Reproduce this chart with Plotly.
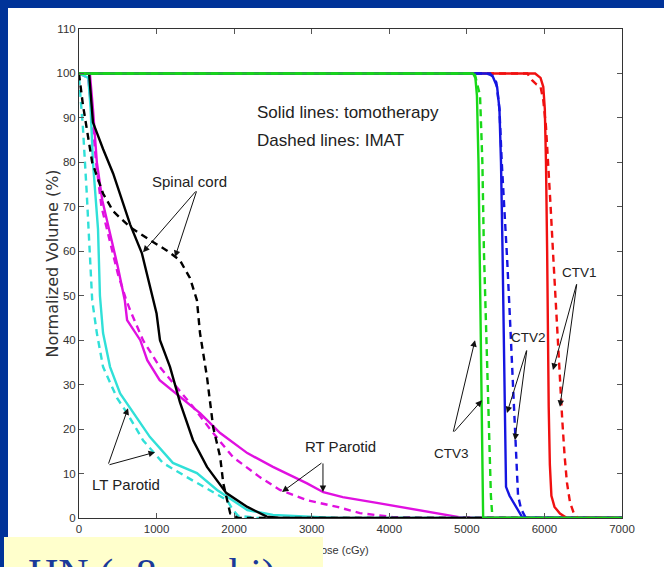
import plotly.graph_objects as go

# ---------------- data (dose in cGy, normalized volume in %) ----------------
ctv1_tomo_x = [0, 5880, 5950, 5985, 6005, 6020, 6035, 6045, 6055, 6070, 6090, 6130, 6200, 6290, 7000]
ctv1_tomo_y = [100, 100, 99, 97, 92, 80, 60, 40, 25, 12, 5, 2.5, 1, 0, 0]
ctv1_imat_x = [0, 5780, 5840, 5900, 5950, 5985, 6020, 6050, 6080, 6110, 6140, 6170, 6200, 6230, 6260, 6290, 6330, 6380, 6430, 7000]
ctv1_imat_y = [100, 100, 98.5, 97.5, 97, 94, 88, 80, 70, 60, 50, 40, 33, 22, 14, 8, 3.5, 1, 0, 0]

ctv2_tomo_x = [0, 5250, 5330, 5390, 5420, 5440, 5460, 5480, 5495, 5505, 5550, 5600, 5660, 5720, 7000]
ctv2_tomo_y = [100, 100, 99.5, 97, 92, 80, 60, 40, 20, 7, 5, 3.5, 1.5, 0, 0]
ctv2_imat_x = [0, 5300, 5380, 5420, 5450, 5490, 5520, 5550, 5580, 5610, 5640, 5660, 5700, 5760, 7000]
ctv2_imat_y = [100, 100, 98, 92, 80, 68, 58, 47, 36, 22, 12, 5, 2, 0, 0]

ctv3_tomo_x = [0, 5080, 5110, 5130, 5150, 5170, 5190, 5210, 7000]
ctv3_tomo_y = [100, 100, 99, 95, 80, 50, 20, 0, 0]
ctv3_imat_x = [0, 5100, 5170, 5200, 5220, 5250, 5280, 5310, 5330, 7000]
ctv3_imat_y = [100, 100, 95, 80, 60, 40, 20, 5, 0, 0]

cord_tomo_x = [0, 130, 180, 310, 440, 550, 660, 810, 915, 1000, 1044, 1173, 1302, 1470, 1650, 1900, 2170, 2420, 2600, 7000]
cord_tomo_y = [100, 100, 89, 83, 77.5, 71.5, 66, 59.6, 52, 46, 40, 34, 26, 17.5, 11.5, 5.6, 2.5, 0.3, 0, 0]
cord_imat_x = [0, 50, 170, 310, 440, 660, 915, 1130, 1300, 1430, 1520, 1560, 1650, 1730, 1820, 1860, 1910, 1950, 2050, 7000]
cord_imat_y = [100, 93, 80, 73, 69, 65.4, 62.5, 60.2, 58, 54, 49, 41.6, 31.7, 20.4, 13.7, 7.8, 4, 1, 0, 0]

rtpar_tomo_x = [0, 140, 180, 230, 300, 400, 500, 590, 620, 790, 880, 1040, 1300, 1560, 1820, 2170, 2500, 2940, 3150, 3400, 3840, 4230, 4600, 4900, 5100, 7000]
rtpar_tomo_y = [100, 100, 92, 80, 71.5, 64, 56.5, 49, 44.5, 40, 35.5, 31, 27.2, 23.6, 19.1, 14.6, 11.5, 7.8, 5.8, 4.7, 3.4, 2.2, 1, 0.2, 0, 0]
rtpar_imat_x = [0, 120, 170, 220, 290, 400, 500, 600, 660, 825, 1040, 1260, 1470, 1730, 1985, 2330, 2590, 2940, 3330, 3620, 4050, 4500, 7000]
rtpar_imat_y = [100, 99, 90, 80, 70, 62, 55, 49.5, 46.7, 40, 34, 29.4, 25, 19.1, 13.7, 9.2, 6.3, 4, 2.5, 1.1, 0.2, 0, 0]

ltpar_tomo_x = [0, 120, 150, 180, 245, 270, 310, 400, 530, 700, 915, 1210, 1520, 1780, 1985, 2170, 2500, 3000, 3300, 7000]
ltpar_tomo_y = [100, 99, 92, 80, 65, 50, 41.6, 34, 28, 23.6, 18.2, 12.4, 10.1, 6.3, 4, 1.8, 0.7, 0.2, 0, 0]
ltpar_imat_x = [0, 50, 100, 140, 170, 230, 310, 490, 620, 825, 1080, 1390, 1690, 1910, 1985, 2050, 2300, 7000]
ltpar_imat_y = [99, 88, 73, 58, 49, 41.6, 34, 27, 23.6, 17.5, 12.4, 9.2, 6.3, 4, 1.8, 0.5, 0, 0]

x_ticks = [0, 1000, 2000, 3000, 4000, 5000, 6000, 7000]
y_ticks = [0, 10, 20, 30, 40, 50, 60, 70, 80, 90, 100, 110]

# ---------------- styling ----------------
W, H = 664, 567
ML, MR, MT, MB = 79, 42, 29, 49
PW, PH = W - ML - MR, H - MT - MB
SANS = "Liberation Sans, Arial, Helvetica, sans-serif"

COL_RED, COL_BLUE, COL_GREEN = "#f01010", "#1515e0", "#18d818"
COL_MAG, COL_CYAN, COL_BLACK = "#e010e0", "#30e0d8", "#000000"
LW = 2.4
DASH = "7px,5px"

def px2paper(px, py):
    return (px - ML) / PW, (H - MB - py) / PH

fig = go.Figure()

series = [
    (rtpar_tomo_x, rtpar_tomo_y, COL_MAG, "solid"),
    (rtpar_imat_x, rtpar_imat_y, COL_MAG, DASH),
    (ltpar_tomo_x, ltpar_tomo_y, COL_CYAN, "solid"),
    (ltpar_imat_x, ltpar_imat_y, COL_CYAN, DASH),
    (cord_tomo_x, cord_tomo_y, COL_BLACK, "solid"),
    (cord_imat_x, cord_imat_y, COL_BLACK, DASH),
    (ctv1_imat_x, ctv1_imat_y, COL_RED, DASH),
    (ctv1_tomo_x, ctv1_tomo_y, COL_RED, "solid"),
    (ctv2_imat_x, ctv2_imat_y, COL_BLUE, DASH),
    (ctv2_tomo_x, ctv2_tomo_y, COL_BLUE, "solid"),
    (ctv3_imat_x, ctv3_imat_y, COL_GREEN, DASH),
    (ctv3_tomo_x, ctv3_tomo_y, COL_GREEN, "solid"),
]
for xs, ys, c, d in series:
    fig.add_trace(go.Scatter(x=xs, y=ys, mode="lines",
                             line=dict(color=c, width=LW, dash=d),
                             showlegend=False, hoverinfo="skip"))

ann = []
labels = [
    ("Spinal cord", 1418, 75.8, 15),
    ("RT Parotid", 3365, 16.0, 15),
    ("LT Parotid", 606, 7.6, 15),
    ("CTV3", 4808, 14.6, 13.5),
    ("CTV2", 5801, 40.5, 13.5),
    ("CTV1", 6458, 55.3, 13.5),
]
for t, x, y, s in labels:
    ann.append(dict(text=t, x=x, y=y, xref="x", yref="y", showarrow=False,
                    font=dict(family=SANS, size=s, color="#222")))

for t, yv in [("Solid lines: tomotherapy", 91.3), ("Dashed lines: IMAT", 85.0)]:
    ann.append(dict(text=t, x=2269, y=yv, xref="x", yref="y", xanchor="left",
                    align="left", showarrow=False,
                    font=dict(family=SANS, size=17, color="#222")))

# arrows: (tail_x, tail_y, head_x, head_y)
arrows = [
    (1521, 73.8, 825, 59.8), (1521, 73.8, 1238, 58.7),
    (3145, 12.6, 2617, 5.85), (3145, 12.6, 3145, 5.85),
    (374, 11.9, 632, 24.7), (374, 11.9, 980, 14.8),
    (4821, 19.1, 5105, 40.0), (4821, 19.1, 5195, 26.5),
    (5775, 38.0, 5517, 23.6), (5775, 38.0, 5620, 17.5),
    (6419, 52.9, 6110, 33.3), (6419, 52.9, 6200, 25.0),
]
for tx, ty, hx, hy in arrows:
    ann.append(dict(text="", x=hx, y=hy, xref="x", yref="y",
                    ax=tx, ay=ty, axref="x", ayref="y", showarrow=True,
                    arrowhead=2, arrowsize=1.3, arrowwidth=1,
                    arrowcolor="#111", standoff=0))

# axis titles
xt, yt = px2paper(341, 558)
ann.append(dict(text="Dose (cGy)", x=xt, y=yt, xref="paper", yref="paper",
                showarrow=False, font=dict(family=SANS, size=11, color="#333")))
xt, yt = px2paper(40, 264)
ann.append(dict(text="Normalized Volume (%)", x=xt, y=yt, xref="paper", yref="paper",
                showarrow=False, textangle=-90,
                font=dict(family="DejaVu Sans, Arial", size=16, color="#333")))

# yellow box covering bottom-left
bx, by = px2paper(4, 537)
ann.append(dict(text=" ", x=bx, y=by, xref="paper", yref="paper",
                xanchor="left", yanchor="top", showarrow=False,
                width=319, height=40, bgcolor="#FFFFCC", borderpad=0,
                borderwidth=0, font=dict(size=10)))
tx, ty = px2paper(26, 549)
ann.append(dict(text="HN (~8 cm bi)", x=tx, y=ty, xref="paper", yref="paper",
                xanchor="left", yanchor="top", showarrow=False,
                font=dict(family="Liberation Serif, Times New Roman, serif",
                          size=42, color="#1a3a9a")))

# blue slide border (top and left)
shapes = [
    dict(type="rect", xref="paper", yref="paper",
         x0=px2paper(0, 0)[0], x1=px2paper(W, 0)[0],
         y0=px2paper(0, 8)[1], y1=px2paper(0, 0)[1],
         fillcolor="#003399", line=dict(width=0), layer="above"),
    dict(type="rect", xref="paper", yref="paper",
         x0=px2paper(0, 0)[0], x1=px2paper(8, 0)[0],
         y0=px2paper(0, H)[1], y1=px2paper(0, 0)[1],
         fillcolor="#003399", line=dict(width=0), layer="above"),
]

axis_common = dict(showline=True, linecolor="#333", linewidth=1, mirror="ticks",
                   ticks="inside", ticklen=5, tickcolor="#555", showgrid=False,
                   zeroline=False, tickfont=dict(family=SANS, size=11.5, color="#333"))

fig.update_layout(
    width=W, height=H,
    margin=dict(l=ML, r=MR, t=MT, b=MB, pad=0),
    paper_bgcolor="white", plot_bgcolor="white",
    xaxis=dict(range=[0, 7000], tickvals=x_ticks, ticktext=[str(v) for v in x_ticks], **axis_common),
    yaxis=dict(range=[0, 110], tickvals=y_ticks, ticktext=[str(v) for v in y_ticks], **axis_common),
    annotations=ann, shapes=shapes,
)

fig.write_html("out.html")
